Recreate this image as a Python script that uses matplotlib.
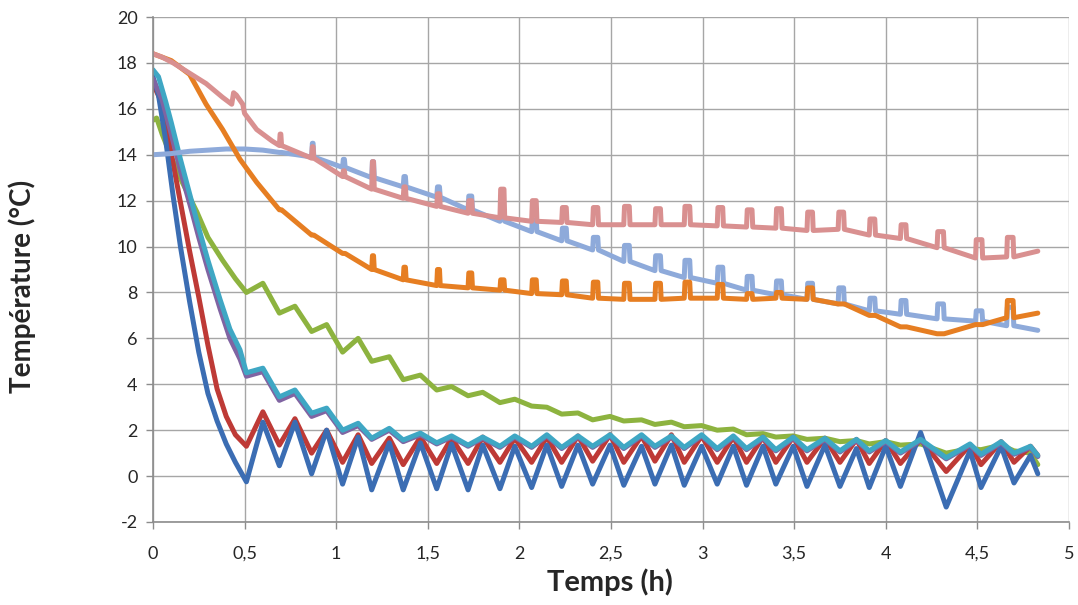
"""Cooling curves of the probes in the cold room (temperature vs time)."""

import matplotlib

matplotlib.use("Agg")
import matplotlib.pyplot as plt
from matplotlib.ticker import FuncFormatter, MultipleLocator

# regulation cycle: alternating trough / peak instants (h)
cycle_t = [0.51, 0.60, 0.69, 0.775, 0.866, 0.948, 1.035, 1.12, 1.194, 1.29,
           1.366, 1.46, 1.549, 1.63, 1.72, 1.80, 1.894, 1.975, 2.067, 2.15,
           2.231, 2.32, 2.40, 2.495, 2.57, 2.667, 2.74, 2.83, 2.90, 2.995,
           3.08, 3.168, 3.24, 3.33, 3.40, 3.495, 3.57, 3.668, 3.75, 3.84,
           3.91, 4.00, 4.08, 4.19, 4.33, 4.46, 4.52, 4.63, 4.70, 4.79, 4.83]

# fast probes: initial drop, then values at cycle_t
blue_pre_t = [0, 0.03, 0.07, 0.11, 0.15, 0.2, 0.25, 0.3, 0.35, 0.4, 0.45]
blue_pre = [17.4, 16.6, 14.6, 12.2, 10.0, 7.6, 5.4, 3.6, 2.4, 1.4, 0.6]
blue_cyc = [-0.25, 2.35, 0.45, 2.35, 0.1, 2.0, -0.35, 1.7, -0.6, 1.45,
            -0.6, 1.45, -0.55, 1.4, -0.6, 1.35, -0.55, 1.3, -0.5, 1.35,
            -0.45, 1.35, -0.35, 1.35, -0.4, 1.3, -0.35, 1.35, -0.4, 1.3,
            -0.35, 1.3, -0.4, 1.3, -0.35, 1.3, -0.45, 1.35, -0.45, 1.2,
            -0.5, 1.3, -0.45, 1.9, -1.35, 1.1, -0.5, 1.3, -0.3, 0.9, 0.1]

red_pre_t = [0, 0.04, 0.08, 0.12, 0.16, 0.2, 0.25, 0.3, 0.35, 0.4, 0.45]
red_pre = [17.1, 16.4, 14.9, 13.2, 11.5, 9.8, 7.8, 5.7, 3.8, 2.6, 1.8]
red_cyc = [1.3, 2.8, 1.35, 2.5, 1.0, 2.0, 0.6, 1.8, 0.55, 1.65,
           0.5, 1.7, 0.55, 1.65, 0.55, 1.7, 0.6, 1.65, 0.6, 1.7,
           0.6, 1.75, 0.65, 1.8, 0.6, 1.75, 0.65, 1.8, 0.6, 1.75,
           0.6, 1.7, 0.6, 1.7, 0.6, 1.7, 0.6, 1.65, 0.6, 1.6,
           0.55, 1.55, 0.55, 1.6, 0.2, 1.35, 0.5, 1.5, 0.6, 1.3, 0.9]

green_pre_t = [0, 0.02, 0.05, 0.1, 0.16, 0.24, 0.3, 0.38, 0.45]
green_pre = [15.5, 15.6, 14.9, 13.9, 12.8, 11.5, 10.4, 9.4, 8.6]
green_cyc = [8.0, 8.4, 7.1, 7.4, 6.3, 6.6, 5.4, 6.0, 5.0, 5.2,
             4.2, 4.4, 3.75, 3.9, 3.5, 3.65, 3.2, 3.35, 3.05, 3.0,
             2.7, 2.75, 2.45, 2.6, 2.4, 2.45, 2.25, 2.35, 2.15, 2.2,
             2.0, 2.05, 1.8, 1.85, 1.7, 1.75, 1.6, 1.65, 1.5, 1.55,
             1.4, 1.5, 1.35, 1.4, 1.0, 1.2, 1.15, 1.35, 1.1, 1.0, 0.5]

purple_pre_t = [0, 0.05, 0.1, 0.15, 0.21, 0.25, 0.3, 0.366, 0.42, 0.475]
purple_pre = [17.3, 16.4, 14.9, 13.3, 11.6, 10.4, 9.0, 7.3, 6.0, 5.1]
purple_cyc = [4.35, 4.55, 3.3, 3.6, 2.6, 2.85, 1.9, 2.2, 1.6, 2.0,
              1.5, 1.8, 1.4, 1.7, 1.3, 1.65, 1.25, 1.7, 1.25, 1.75,
              1.2, 1.7, 1.25, 1.75, 1.2, 1.75, 1.25, 1.7, 1.2, 1.75,
              1.15, 1.7, 1.15, 1.65, 1.1, 1.65, 1.1, 1.6, 1.05, 1.55,
              1.05, 1.5, 1.0, 1.55, 0.75, 1.35, 0.9, 1.45, 0.95, 1.25, 0.85]

teal_pre_t = [0, 0.03, 0.07, 0.1, 0.15, 0.21, 0.25, 0.3, 0.366, 0.42, 0.475]
teal_pre = [17.7, 17.4, 16.3, 15.4, 13.8, 12.0, 10.8, 9.4, 7.7, 6.4, 5.5]
teal_cyc = [4.5, 4.7, 3.45, 3.75, 2.74, 2.96, 2.0, 2.3, 1.65, 2.08,
            1.57, 1.87, 1.45, 1.75, 1.35, 1.7, 1.3, 1.75, 1.3, 1.8,
            1.25, 1.75, 1.3, 1.8, 1.25, 1.8, 1.3, 1.75, 1.25, 1.8,
            1.2, 1.75, 1.2, 1.7, 1.15, 1.7, 1.15, 1.65, 1.1, 1.6,
            1.1, 1.55, 1.05, 1.6, 0.8, 1.4, 0.95, 1.5, 1.0, 1.3, 0.9]

# slow probes: smooth start, then base / spike top at each spike instant
spike_t = [0.69, 0.866, 1.035, 1.194, 1.366, 1.549, 1.72, 1.894, 2.067, 2.231,
           2.40, 2.57, 2.74, 2.90, 3.08, 3.24, 3.40, 3.57, 3.74, 3.91,
           4.08, 4.28, 4.49, 4.66]
spike_w = [0.008, 0.008, 0.01, 0.01, 0.012, 0.015, 0.02, 0.022, 0.025, 0.025,
           0.028, 0.03, 0.03, 0.03, 0.03, 0.03, 0.03, 0.03, 0.03, 0.03,
           0.03, 0.035, 0.035, 0.035]
end_t = 4.83

orange_pre_t = [0, 0.1, 0.2, 0.29, 0.38, 0.475, 0.566]
orange_pre = [18.4, 18.1, 17.5, 16.2, 15.1, 13.8, 12.8]
orange_base = [11.6, 10.5, 9.7, 9.0, 8.55, 8.3, 8.2, 8.1, 7.95, 7.9,
               7.75, 7.7, 7.7, 7.75, 7.75, 7.7, 7.75, 7.7, 7.5, 7.0,
               6.5, 6.2, 6.6, 6.9]
orange_top = [11.6, 10.5, 9.7, 9.6, 9.1, 9.0, 8.85, 8.55, 8.55, 8.5,
              8.45, 8.4, 8.4, 8.45, 8.35, 7.95, 8.0, 8.2, 7.5, 7.0,
              6.5, 6.2, 6.6, 7.65]
orange_end = 7.1

pink_pre_t = [0, 0.05, 0.11, 0.2, 0.29, 0.38, 0.43, 0.44, 0.455, 0.49, 0.5, 0.566, 0.65]
pink_pre = [18.4, 18.25, 18.0, 17.55, 17.1, 16.5, 16.2, 16.7, 16.6, 16.2, 15.8, 15.1, 14.6]
pink_base = [14.4, 13.85, 13.05, 12.5, 12.1, 11.75, 11.45, 11.25, 11.1, 11.05,
             10.95, 10.95, 10.95, 10.95, 10.9, 10.85, 10.8, 10.7, 10.75, 10.5,
             10.35, 9.95, 9.5, 9.55]
pink_top = [14.9, 14.35, 13.3, 13.7, 12.6, 12.3, 12.0, 12.5, 12.0, 11.7,
            11.7, 11.75, 11.65, 11.75, 11.7, 11.6, 11.65, 11.5, 11.5, 11.2,
            10.95, 10.65, 10.3, 10.4]
pink_end = 9.8

lblue_pre_t = [0, 0.1, 0.2, 0.3, 0.4, 0.5, 0.6]
lblue_pre = [14.0, 14.05, 14.15, 14.2, 14.25, 14.25, 14.2]
lblue_base = [14.1, 13.9, 13.45, 13.0, 12.6, 12.15, 11.6, 11.1, 10.65, 10.25,
              9.85, 9.35, 8.95, 8.65, 8.4, 8.1, 7.9, 7.7, 7.5, 7.2,
              7.05, 6.85, 6.75, 6.55]
lblue_top = [14.1, 14.5, 13.8, 13.7, 13.05, 12.6, 12.2, 11.5, 11.15, 10.8,
             10.4, 10.05, 9.6, 9.4, 9.1, 8.7, 8.5, 8.4, 8.2, 7.75,
             7.65, 7.5, 7.2, 7.35]
lblue_end = 6.35


def spiked(pre_t, pre, base, top, end):
    t, y = list(pre_t), list(pre)
    for ts, w, b, h in zip(spike_t, spike_w, base, top):
        t += [ts, ts + 0.004, ts + w, ts + w + 0.004]
        y += [b, h, h, b]
    return t + [end_t], y + [end]


fig = plt.figure(figsize=(10.78, 6.05), dpi=100)
ax = fig.add_axes([0.1419, 0.1372, 0.8497, 0.8347])

lw = 3.6
style = dict(lw=lw, solid_joinstyle="round", solid_capstyle="round")
ax.plot(green_pre_t + cycle_t, green_pre + green_cyc, color="#8DB33F", **style)
ax.plot(red_pre_t + cycle_t, red_pre + red_cyc, color="#BE3A36", **style)
ax.plot(blue_pre_t + cycle_t, blue_pre + blue_cyc, color="#3B6DB3", **style)
ax.plot(purple_pre_t + cycle_t, purple_pre + purple_cyc, color="#8064A2", **style)
ax.plot(teal_pre_t + cycle_t, teal_pre + teal_cyc, color="#3FA7C4", **style)
ax.plot(*spiked(lblue_pre_t, lblue_pre, lblue_base, lblue_top, lblue_end), color="#8EAADA", **style)
ax.plot(*spiked(orange_pre_t, orange_pre, orange_base, orange_top, orange_end), color="#E67E22", **style)
ax.plot(*spiked(pink_pre_t, pink_pre, pink_base, pink_top, pink_end), color="#D99090", **style)

ax.set_xlim(0, 5)
ax.set_ylim(-2, 20)
ax.xaxis.set_major_locator(MultipleLocator(0.5))
ax.yaxis.set_major_locator(MultipleLocator(2))
comma = FuncFormatter(lambda v, p: f"{v:g}".replace(".", ","))
ax.xaxis.set_major_formatter(comma)
ax.yaxis.set_major_formatter(comma)

ax.grid(True, color="#A6A6A6", lw=1.0)
ax.set_axisbelow(True)
for side in ("top", "right"):
    ax.spines[side].set_visible(False)
for side in ("left", "bottom"):
    ax.spines[side].set_color("#8C8C8C")
    ax.spines[side].set_linewidth(1.2)
ax.tick_params(colors="#8C8C8C", length=5, width=1, labelcolor="#262626", labelsize=13)
for lab in ax.get_xticklabels() + ax.get_yticklabels():
    lab.set_family("Lato")
ax.tick_params(axis="x", pad=12)
ax.tick_params(axis="y", pad=6)

ax.set_xlabel("Temps (h)", fontsize=21, fontweight="bold", family="Lato", color="#262626")
ax.set_ylabel("Température (°C)", fontsize=20, fontweight="bold", family="Lato", color="#262626")
ax.xaxis.set_label_coords(0.499, -0.092)
ax.yaxis.set_label_coords(-0.128, 0.466)

fig.savefig("out.png", dpi=100)
